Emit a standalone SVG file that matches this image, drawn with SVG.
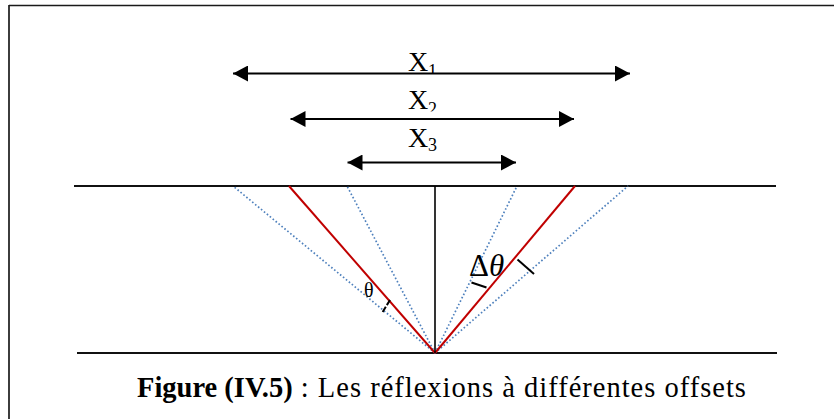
<svg xmlns="http://www.w3.org/2000/svg" width="834" height="419" viewBox="0 0 834 419">
<style>
.frame{stroke:#1a1a1a;stroke-width:1.7;fill:none}
.layer{stroke:#111;stroke-width:2;fill:none}
.arrow{stroke:#000;stroke-width:2;fill:none}
.ray{stroke:#C00000;stroke-width:2;fill:none}
.dot{stroke:#4F81BD;stroke-width:1.7;stroke-dasharray:1.6 2.2;fill:none}
.normal{stroke:#000;stroke-width:1.6;fill:none}
.tick{stroke:#000;stroke-width:2;fill:none}
.lbl{font-family:"Liberation Serif","Times New Roman",serif;fill:#000}
</style>
<defs>
<marker id="ah" viewBox="0 0 15 16" refX="15" refY="8" markerWidth="15" markerHeight="16" markerUnits="userSpaceOnUse" orient="auto-start-reverse">
<path d="M0,0 L15,8 L0,16 z" fill="#000"/>
</marker>
<clipPath id="c1"><rect x="380" y="40" width="80" height="33"/></clipPath>
<clipPath id="c2"><rect x="380" y="85" width="80" height="26.5"/></clipPath>
</defs>
<g id="frame">
<line class="frame" x1="9" y1="5.5" x2="834" y2="5.5"/>
<line class="frame" x1="9" y1="5" x2="9" y2="419"/>
</g>
<g id="layer-top"><line class="layer" x1="74" y1="186" x2="776" y2="186"/></g>
<g id="layer-bottom"><line class="layer" x1="77" y1="353" x2="777" y2="353"/></g>
<g id="label-x1" class="lbl" clip-path="url(#c1)">
<text x="408" y="71" font-size="28">X</text><text x="428" y="77" font-size="18">1</text>
</g>
<g id="label-x2" class="lbl" clip-path="url(#c2)">
<text x="408" y="109" font-size="28">X</text><text x="428" y="115" font-size="18">2</text>
</g>
<g id="label-x3" class="lbl">
<text x="408" y="147" font-size="28">X</text><text x="428" y="151" font-size="18">3</text>
</g>
<g id="connectors">
<line class="arrow" x1="233" y1="73.5" x2="630" y2="73.5" marker-start="url(#ah)" marker-end="url(#ah)"/>
<line class="arrow" x1="290.5" y1="119" x2="574" y2="119" marker-start="url(#ah)" marker-end="url(#ah)"/>
<line class="arrow" x1="347.5" y1="162.5" x2="516" y2="162.5" marker-start="url(#ah)" marker-end="url(#ah)"/>
<line class="dot" x1="435" y1="353" x2="233" y2="186"/>
<line class="dot" x1="435" y1="353" x2="347" y2="186"/>
<line class="dot" x1="435" y1="353" x2="517" y2="186"/>
<line class="dot" x1="435" y1="353" x2="628" y2="186"/>
<line class="ray" x1="435" y1="353" x2="289" y2="186"/>
<line class="ray" x1="435" y1="353" x2="575" y2="186"/>
<line class="normal" x1="435" y1="186" x2="435" y2="353"/>
</g>
<g id="angle-theta">
<line class="tick" x1="390" y1="300" x2="382" y2="313" stroke-dasharray="6 2"/>
<text class="lbl" x="364" y="297" font-size="20">θ</text>
</g>
<g id="angle-delta-theta">
<line class="tick" x1="471.5" y1="282.5" x2="486.5" y2="287.5"/>
<line class="tick" x1="517.5" y1="259.5" x2="534" y2="274"/>
<text class="lbl" x="469" y="276" font-size="31">Δ<tspan font-style="italic">θ</tspan></text>
</g>
<g id="caption">
<text class="lbl" x="137" y="397" font-size="28.5"><tspan font-weight="bold">Figure (IV.5)</tspan><tspan letter-spacing="1"> : Les réflexions à différentes offsets</tspan></text>
</g>
</svg>
